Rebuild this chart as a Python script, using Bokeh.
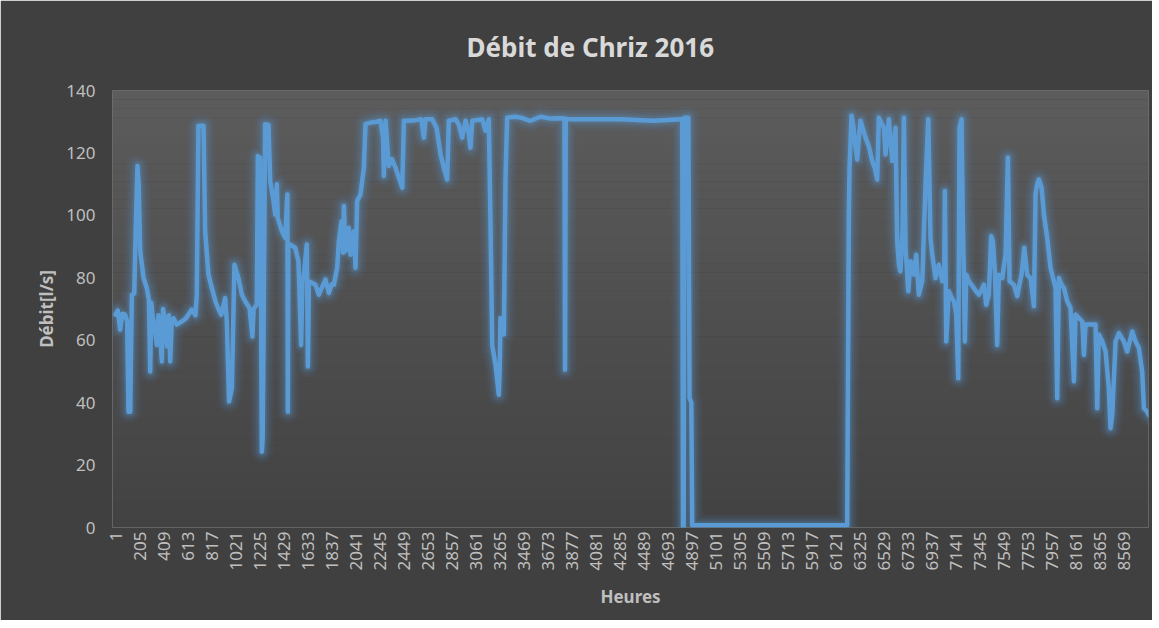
import math
from bokeh.plotting import figure
from bokeh.models import Range1d, FixedTicker, BoxAnnotation, ColumnDataSource
from bokeh.embed import file_html
from bokeh.resources import INLINE

# ---- data ----
hours = [
    1, 20, 41, 60, 83, 100, 111, 126, 140, 160, 176, 188, 198, 211, 239, 267, 285, 296, 305, 315,
    340, 352, 366, 380, 395, 405, 423, 440, 455, 466, 480, 494, 520, 565, 600, 650, 680, 692, 706, 749,
    763, 791, 820, 850, 876, 900, 933, 947, 966, 976, 990, 1012, 1046, 1075, 1103, 1140, 1165, 1175, 1202, 1211,
    1231, 1245, 1252, 1259, 1273, 1301, 1316, 1344, 1358, 1372, 1380, 1415, 1443, 1462, 1466, 1470, 1485, 1528, 1556, 1579,
    1590, 1599, 1627, 1636, 1645, 1700,
    1729, 1757, 1786, 1814, 1840, 1857, 1885, 1899, 1922, 1935, 1942, 1956, 1970, 1984, 1998, 2013, 2027, 2041, 2055, 2083,
    2112, 2126, 2168, 2220, 2253, 2275, 2282, 2296, 2324, 2350, 2381, 2409, 2438, 2452, 2494, 2551, 2600, 2622, 2636, 2693,
    2730, 2764, 2800, 2820, 2834, 2891, 2920, 2948, 2976, 3000, 3018, 3033, 3118, 3146, 3174, 3188, 3203, 3231, 3259, 3266,
    3273, 3288, 3302, 3316, 3330, 3400,
    3444, 3528, 3613, 3700, 3784, 3817, 3822, 3828, 3840, 4010, 4293, 4577, 4803, 4818, 4824, 4830, 4838, 4870, 4880, 4895,
    4903, 4917, 5228,
    6220, 6234, 6240, 6257, 6275, 6291, 6305, 6320, 6333, 6376, 6405, 6433, 6455, 6475, 6489, 6532, 6546, 6574, 6603, 6631,
    6645, 6660, 6673, 6690, 6702, 6716, 6739, 6759, 6787, 6807, 6829, 6858, 6886, 6909, 6928, 6943, 6971, 6990, 6999,
    7028, 7045, 7050, 7062, 7084, 7110, 7127, 7147, 7164, 7175, 7192, 7203, 7212, 7220, 7232, 7254, 7297, 7320, 7339, 7360,
    7382, 7402, 7424, 7444, 7458, 7475, 7495, 7509, 7538, 7566, 7586, 7600, 7637, 7665, 7690, 7702, 7725, 7750, 7778, 7807,
    7821, 7835, 7849, 7872, 7892, 7920, 7948, 7977, 7991, 8005, 8019, 8040, 8062, 8090, 8118, 8147, 8161, 8189, 8218, 8232,
    8246, 8303, 8331, 8345, 8359, 8388, 8416, 8444, 8458, 8473, 8501, 8529, 8572, 8600, 8643, 8671, 8699, 8727, 8742, 8770,
    8784,
]
debit = [
    68.2, 69.5, 63.4, 68.5, 68.2, 66.0, 37.1, 37.1, 74.6, 75.0, 100.0, 115.8, 110.0, 88.5, 80.0, 76.7, 73.0, 50.0, 72.0, 68.2,
    62.0, 58.5, 68.0, 62.0, 53.2, 70.0, 66.0, 58.0, 68.0, 53.2, 66.0, 67.0, 65.0, 66.0, 67.0, 69.8, 68.0, 74.6, 128.6, 128.7,
    94.9, 81.0, 76.7, 72.5, 70.0, 68.2, 73.5, 66.0, 40.4, 42.0, 44.6, 84.2, 79.9, 74.6, 72.5, 70.3, 61.2, 70.0, 71.4, 119.0,
    118.5, 24.3, 28.6, 60.0, 129.2, 129.0, 111.0, 104.6, 100.3, 110.0, 99.2, 95.0, 92.8, 106.7, 37.1, 90.7, 90.7, 89.6, 85.3, 58.5,
    80.0, 79.9, 90.7, 51.6, 78.9, 77.8,
    74.6, 77.0, 79.4, 75.1, 78.0, 77.8, 83.2, 91.7, 98.1, 88.0, 103.0, 88.5, 92.0, 96.0, 87.4, 94.0, 94.9, 83.2, 104.6, 106.7,
    115.3, 129.2, 129.7, 130.0, 130.3, 125.0, 112.6, 130.3, 115.8, 118.0, 115.3, 112.1, 108.9, 130.3, 130.3, 130.5, 130.8, 124.9, 130.8, 130.8,
    128.0, 119.5, 114.0, 111.5, 130.3, 130.8, 129.0, 124.9, 130.3, 127.0, 121.7, 130.3, 130.8, 127.1, 130.8, 98.1, 58.5, 52.1, 42.5, 50.0,
    67.1, 66.0, 61.8, 112.1, 131.3, 131.6,
    131.3, 130.3, 131.6, 131.0, 131.1, 131.0, 50.5, 131.0, 130.8, 130.8, 130.8, 130.3, 130.8, 130.8, 0.2, 0.2, 131.3, 131.3, 41.4, 40.0,
    0.7, 0.7, 0.7,
    0.7, 100.0, 115.3, 131.9, 128.0, 121.7, 117.9, 125.0, 130.3, 124.9, 122.0, 117.4, 115.0, 111.5, 131.3, 128.1, 119.5, 130.8, 117.4, 128.1,
    91.7, 84.0, 82.1, 95.0, 131.3, 89.6, 75.7, 85.3, 81.0, 87.4, 74.6, 78.9, 109.9, 130.8, 92.8, 87.4, 79.9, 83.0, 84.2,
    78.9, 80.0, 107.8, 59.6, 75.7, 73.5, 72.5, 68.2, 47.8, 128.1, 130.8, 98.1, 80.0, 59.6, 81.0, 78.9, 76.7, 75.5, 74.6, 76.0,
    77.8, 71.4, 74.6, 93.3, 91.7, 82.1, 58.5, 81.0, 79.9, 87.4, 118.5, 78.9, 77.8, 74.1, 79.0, 81.0, 89.6, 81.0, 79.9, 70.9,
    106.7, 110.0, 111.5, 108.9, 100.3, 92.8, 83.2, 78.9, 76.7, 41.4, 79.9, 78.0, 76.7, 72.5, 70.3, 46.8, 68.2, 67.1, 66.0, 55.3,
    65.0, 65.0, 65.0, 38.2, 61.8, 59.6, 56.4, 44.6, 31.8, 36.1, 59.6, 62.3, 59.6, 56.4, 62.8, 59.6, 57.5, 50.1, 38.2, 37.1,
    36.0,
]
x_ticks = list(range(1, 8570, 204))          # 1, 205, 409, ... 8569
y_ticks = [0, 20, 40, 60, 80, 100, 120, 140]

title_text = "Débit de Chriz 2016"
x_title = "Heures"
y_title = "Débit[l/s]"

FONT = "Noto Sans"
LINE_COLOR = "#5b9bd5"

p = figure(
    width=1152, height=620,
    output_backend="svg", toolbar_location=None,
    x_range=Range1d(-24.5, 8781), y_range=Range1d(0, 140),
    min_border_left=112, min_border_right=4, min_border_top=90, min_border_bottom=93,
    title=title_text,
)
p.border_fill_color = "#404040"
p.background_fill_color = "#434343"
p.outline_line_color = None
p.grid.visible = False

# vertical gradient of the plot area
N = 48
top_rgb = (92, 92, 92)
bot_rgb = (66, 66, 66)
for i in range(N):
    t = (i + 0.5) / N
    r = round(bot_rgb[0] + (top_rgb[0] - bot_rgb[0]) * t)
    g = round(bot_rgb[1] + (top_rgb[1] - bot_rgb[1]) * t)
    b = round(bot_rgb[2] + (top_rgb[2] - bot_rgb[2]) * t)
    p.add_layout(BoxAnnotation(
        bottom=140 * i / N, top=140 * (i + 1) / N + 0.05,
        fill_color=f"#{r:02x}{g:02x}{b:02x}", fill_alpha=1.0,
        line_alpha=0, level="underlay"))

src = ColumnDataSource(dict(x=hours, y=debit))
# soft glow
for w, a in [(22, 0.06), (17, 0.08), (12, 0.12), (8, 0.18)]:
    p.line("x", "y", source=src, line_color=LINE_COLOR, line_width=w, line_alpha=a,
           line_join="round", line_cap="round")
p.line("x", "y", source=src, line_color=LINE_COLOR, line_width=4.5,
       line_join="round", line_cap="round")

# title
p.title.text_font = FONT
p.title.text_font_size = "26px"
p.title.text_font_style = "bold"
p.title.text_color = "#d9d9d9"
p.title.align = "left"
p.title.offset = 354
p.title.standoff = 51

for ax in (p.xaxis[0], p.yaxis[0]):
    ax.axis_line_color = None
    ax.major_tick_line_color = None
    ax.minor_tick_line_color = None
    ax.major_tick_in = 0
    ax.major_tick_out = 0
    ax.minor_tick_in = 0
    ax.minor_tick_out = 0
    ax.major_label_text_font = FONT
    ax.major_label_text_font_size = "17px"
    ax.major_label_text_color = "#bfbfbf"
    ax.axis_label_text_font = FONT
    ax.axis_label_text_font_size = "17px"
    ax.axis_label_text_font_style = "bold"
    ax.axis_label_text_color = "#bfbfbf"

p.xaxis[0].ticker = FixedTicker(ticks=x_ticks)
p.xaxis[0].major_label_orientation = math.pi / 2
p.xaxis[0].major_label_standoff = 4
p.xaxis[0].axis_label = x_title
p.xaxis[0].axis_label_standoff = 12

p.yaxis[0].ticker = FixedTicker(ticks=y_ticks)
p.yaxis[0].major_label_standoff = 17
p.yaxis[0].axis_label = y_title
p.yaxis[0].axis_label_standoff = 5

open("out.html", "w").write(file_html(p, INLINE))
